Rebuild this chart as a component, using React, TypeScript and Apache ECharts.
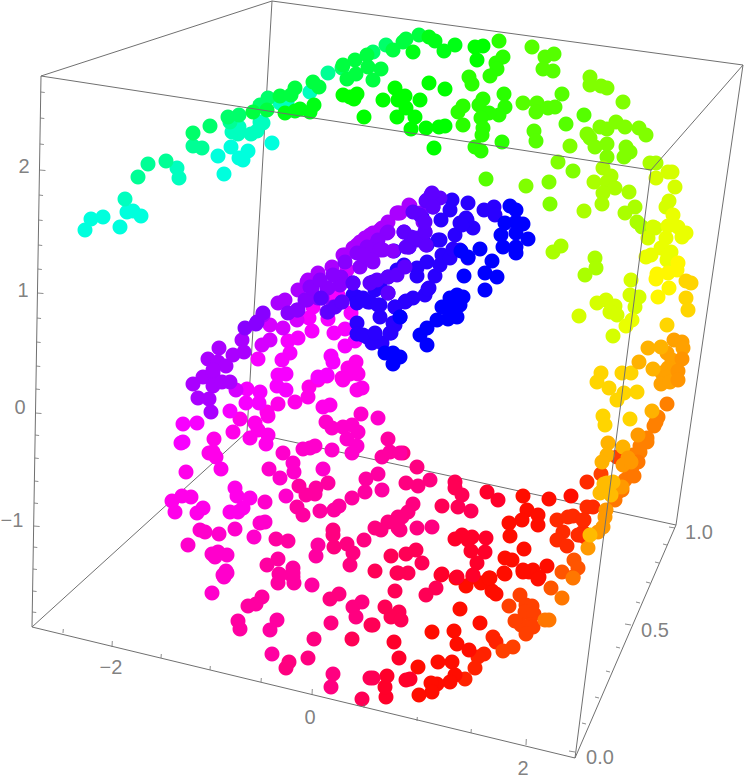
import React, { useEffect, useRef } from "react";
import * as echarts from "echarts";

// Projected positions of the points (x, y on the page plane), grouped by hue band
const hue172 = [[85,230],[91,219],[103,217],[120,227],[127,212],[133,211],[141,216],[224,174],[272,143],[243,160],[239,158],[248,151],[218,156],[231,147]];
const hue165 = [[125,199],[179,178],[177,168],[251,134],[257,131],[263,123],[260,122],[280,103],[287,102],[238,134],[232,132],[239,127],[310,92]];
const hue155 = [[138,177],[148,164],[166,161],[193,146],[202,148],[230,122],[328,73]];
const hue145 = [[193,133],[210,126],[228,117],[239,115],[342,68],[260,105],[268,98],[373,52],[386,45]];
const hue135 = [[253,112],[267,110],[280,96],[291,95],[295,88],[313,82],[319,87],[343,65],[355,60],[347,79],[356,74],[367,55],[368,67],[381,69],[393,50],[403,42],[406,39],[419,35],[373,80]];
const hue125 = [[285,113],[295,111],[300,109],[310,112],[314,105],[413,52],[429,37],[435,41],[444,51],[455,45]];
const hue120 = [[343,95],[350,97],[357,94],[354,99],[364,117],[383,100],[395,88],[405,96],[398,100],[406,108],[397,117],[415,117],[420,100],[429,83],[445,89],[411,129],[426,128],[439,127],[445,126],[434,148],[475,47],[483,46],[477,60]];
const hue110 = [[499,41],[503,57],[496,63],[497,69],[490,76],[469,77],[472,84],[463,125],[458,112],[463,106],[483,99],[479,105],[504,94],[505,107],[499,115],[489,113],[481,118],[483,128],[482,135],[475,147],[481,151],[502,142]];
const hue100 = [[532,47],[545,57],[554,54],[543,69],[553,71],[523,103],[537,103],[536,112],[548,108],[555,107],[562,94],[534,131],[536,141],[566,124],[584,115],[486,179]];
const hue90 = [[590,77],[590,85],[601,86],[607,88],[623,102],[587,134],[590,138],[595,147],[600,127],[607,129],[616,122],[625,127],[639,128],[646,135],[607,144],[607,157],[626,147],[630,152],[624,157],[570,146],[558,162],[573,171],[526,186],[549,182],[550,204]];
const hue80 = [[603,168],[611,176],[594,182],[607,182],[615,188],[603,193],[629,192],[602,204],[584,211],[625,213],[635,207],[650,163],[656,163],[553,252],[561,246],[595,258],[596,268],[585,275],[637,222],[642,227]];
const hue70 = [[656,178],[668,172],[672,172],[675,187],[669,201],[666,207],[655,228],[648,238],[653,227],[597,303],[606,300],[579,316],[631,280],[615,306],[610,312],[617,315],[613,336],[630,295],[639,297],[635,307]];
const hue65 = [[673,215],[668,226],[678,227],[666,238],[661,248],[671,252],[651,255],[646,257],[668,255],[667,260],[686,233],[682,237],[632,320],[626,326]];
const hue58 = [[678,263],[677,270],[668,273],[657,274],[656,279],[669,288],[658,297]];
const hue50 = [[686,281],[691,283],[686,298],[688,310],[667,325],[601,373],[597,382],[609,388],[622,373],[631,373],[624,393],[637,392],[617,400],[603,416],[605,425],[630,419]];
const hue42 = [[648,348],[661,347],[639,362],[653,369],[608,443],[623,447],[607,455],[602,462],[652,411]];
const hue38 = [[674,340],[682,342],[683,348],[667,353],[672,360],[668,368],[662,373],[667,377],[661,384],[670,382]];
const hue35 = [[682,359],[678,371],[678,380]];
const hue30 = [[667,404],[658,417],[656,422],[654,426],[647,438],[647,442],[640,452],[633,455],[640,446]];
const hue15 = [[601,474],[617,457],[520,595],[526,605],[532,606],[525,612],[534,614],[521,625],[530,625],[533,627],[526,634],[515,621],[509,606],[513,647],[503,651]];
const hue10 = [[587,482],[584,520],[563,532],[557,540],[567,546],[583,532],[578,535],[557,520],[568,517],[573,516],[593,507],[587,507],[583,520],[580,535],[585,537]];
const hue20 = [[574,560],[578,568],[573,577],[562,572],[551,588]];
const hue28 = [[545,620],[549,620],[562,598],[573,578]];
const hue8 = [[493,637],[496,642],[484,654],[478,657],[475,668],[465,679]];
const hue3 = [[549,499],[571,496],[523,496],[527,510],[538,515],[522,520],[538,525],[509,523],[510,536],[524,549],[505,558],[512,560],[504,573],[523,570],[533,570],[547,566],[539,577],[529,572],[523,572],[538,579],[505,574],[492,591],[496,594],[490,578],[481,583],[473,577],[466,586],[456,578],[460,609],[480,623],[454,631],[457,644],[469,650],[452,662],[438,662],[455,675],[450,682],[437,684],[431,683],[432,692],[419,695],[418,667],[432,632],[489,578]];
const hue350 = [[487,492],[498,500],[486,538],[472,537],[468,540],[471,551],[485,552],[462,535],[455,539],[477,563],[473,575],[457,577],[442,574],[410,679],[406,680],[386,697],[385,687],[387,676],[399,658],[394,642],[441,575]];
const hue340 = [[455,482],[455,488],[462,495],[458,507],[471,511],[442,506],[416,550],[406,554],[422,563],[408,573],[398,573],[436,588],[426,595],[395,591],[385,607],[399,612],[391,617],[401,620],[373,625],[362,699],[370,678],[373,678],[352,639],[371,625],[397,573],[375,571],[391,556]];
const hue330 = [[403,453],[417,467],[406,483],[418,486],[430,480],[413,504],[408,512],[402,517],[417,528],[432,527],[400,530],[398,528],[398,517],[388,522],[381,530],[375,528],[364,540],[347,544],[353,553],[350,565],[334,547],[333,535],[333,530],[353,607],[362,602],[356,617],[331,623],[330,599],[339,594],[333,674],[331,687],[308,658],[314,639],[289,662],[286,668]];
const hue322 = [[388,439],[382,457],[390,452],[400,453],[378,474],[366,479],[365,492],[382,490],[352,498],[339,506],[334,510],[320,511],[328,483],[316,488],[315,494],[306,495],[299,486],[303,515],[297,507],[318,545],[316,556],[293,568],[279,574],[293,577],[278,559],[267,565],[312,585],[294,583],[278,583],[280,575],[293,573],[276,539],[288,541],[272,654],[277,620],[270,630],[262,597],[256,604],[248,606],[238,621],[240,629]];
const hue312 = [[378,418],[361,414],[358,432],[347,439],[357,446],[352,453],[343,427],[352,425],[332,428],[326,422],[332,450],[315,446],[310,448],[303,449],[323,469],[294,472],[293,463],[286,496],[280,478],[269,469],[283,453],[254,537],[260,523],[265,522],[265,502],[235,529],[219,534],[226,571],[223,575],[224,577],[227,573],[212,593],[227,555],[212,554],[218,552],[215,557],[200,530],[205,532],[188,545]];
const hue305 = [[357,390],[362,388],[350,374],[358,374],[343,380],[323,407],[330,405],[308,397],[309,387],[318,380],[327,376],[342,378],[295,402],[278,404],[267,412],[268,416],[240,419],[233,432],[250,438],[266,444],[268,435],[258,430],[255,423],[243,508],[238,512],[230,512],[250,498],[237,496],[235,488],[203,508],[197,513],[175,512],[172,501],[182,496],[191,497],[186,472],[221,469],[216,457],[213,452],[209,453],[214,439],[356,362],[357,373],[348,368]];
const hue298 = [[286,390],[277,386],[278,375],[286,374],[259,403],[260,392],[246,403],[230,411],[247,389],[183,442],[181,443],[183,424],[197,423],[258,359],[282,360],[290,353],[288,341],[298,338],[312,331],[309,318],[313,307],[333,297],[338,295],[328,319],[334,333],[345,329],[351,313],[345,346],[355,341],[331,356],[333,362],[318,377],[327,375]];
const hue290 = [[236,390],[262,345],[270,340],[270,325],[283,328],[297,320],[347,270]];
const hue280 = [[193,384],[203,377],[213,373],[213,386],[222,382],[230,382],[198,398],[209,399],[211,412],[242,340],[233,355],[244,352],[219,348],[208,359],[218,362],[226,366],[213,370],[278,303],[285,300],[298,290],[307,282],[318,273],[332,267],[343,255],[353,248],[360,242],[370,235],[380,230],[388,222],[397,213],[410,206],[400,213],[409,205],[398,213],[382,228],[373,233],[365,238],[357,245],[345,255],[308,280],[283,302],[263,315]];
const hue272 = [[245,328],[257,322],[263,313],[256,324],[288,313],[298,310],[305,300],[310,287],[327,288],[341,277],[340,285],[345,262],[360,267],[367,257],[373,262],[377,243],[387,233],[383,250],[393,251],[420,213],[423,222],[404,232],[378,250],[388,232],[378,240],[367,247],[357,253],[380,250],[372,260],[333,275],[328,288],[318,298],[307,300],[312,288],[297,310],[320,280],[363,255],[342,302],[333,307],[327,312],[322,298]];
const hue262 = [[321,298],[328,312],[335,307],[342,302],[353,283],[370,283],[377,280],[388,277],[397,275],[388,293],[405,267],[409,247],[411,237],[406,247],[418,240],[425,232],[426,245],[431,195],[426,201],[440,198],[433,207],[404,232],[415,238],[425,232],[420,215],[413,212],[425,222],[427,200],[432,193],[433,207]];
const hue250 = [[357,297],[370,302],[380,305],[395,307],[380,317],[357,323],[357,334],[367,337],[375,335],[372,343],[382,343],[391,333],[393,323],[417,268],[417,276],[427,262],[435,276],[440,265],[442,255],[450,258],[453,249],[460,250],[468,258],[440,240],[455,235],[450,210],[452,200],[441,220],[422,217],[460,223],[466,218],[473,228],[468,203],[484,210],[494,207],[495,215],[467,220],[462,225],[413,298],[425,295],[429,288],[406,301],[353,283],[373,282],[380,287],[388,293],[353,295],[357,303],[368,302],[378,305],[363,298],[375,290],[388,277],[397,270],[404,265],[438,240],[427,245],[409,247],[394,251],[428,289],[405,302],[395,307],[400,317],[395,325],[390,333],[363,335],[375,333]];
const hue240 = [[510,206],[516,210],[516,222],[523,224],[505,223],[501,235],[516,233],[528,239],[503,247],[516,247],[516,253],[461,251],[468,257],[480,249],[492,261],[485,273],[497,277],[464,276],[485,290],[463,297],[457,295],[450,298],[460,305],[442,307],[452,310],[457,317],[448,319],[437,320],[427,328],[420,335],[427,345],[385,353],[393,353],[393,364],[400,317],[400,357]];
const bandOrange28 = [[632,467],[630,473],[625,480],[622,490],[615,500],[618,492],[638,462],[634,476]];
const frontOrange36 = [[638,435],[628,458],[623,465],[631,462],[606,510],[605,517],[603,527],[598,532],[588,548],[618,487],[622,487]];
const frontGold44 = [[590,535],[603,490],[607,483],[613,482],[600,493],[608,490],[611,495],[604,484]];

const bands: [number, number[][]][] = [
  [8, hue8],[3, hue3],[350, hue350],[340, hue340],[330, hue330],[322, hue322],[312, hue312],[305, hue305],[298, hue298],[290, hue290],[280, hue280],[250, hue250],[272, hue272],[262, hue262],[240, hue240],
  [172, hue172],[165, hue165],[155, hue155],[145, hue145],[135, hue135],[125, hue125],[120, hue120],[110, hue110],[100, hue100],[90, hue90],[80, hue80],[70, hue70],[65, hue65],[58, hue58],[50, hue50],
  [10, hue10],[15, hue15],[20, hue20],[28, hue28],[30, hue30],[38, hue38],[35, hue35],[42, hue42],[28, bandOrange28],[36, frontOrange36],[44, frontGold44],
];

// Box frame of the 3D plot, as projected
const backEdges = [[[272,1],[247,432]],[[247,432],[32,627]],[[247,432],[676,525]],[[41,76],[272,1]],[[272,1],[743,65]]];
const frontEdges = [[[41,76],[651,170]],[[651,170],[743,65]],[[41,76],[32,627]],[[651,170],[575,758]],[[743,65],[676,525]],[[32,627],[575,758]],[[575,758],[676,525]]];

// Ticks as projected
const leftTickY = [92,118,144,170,195,220,245,269,293,318,342,366,389,413,435,458,481,503,526,547,569,591,612];
const leftMajorY = [170,293,413,526];
const bottomTicks = [[63,633],[112,647],[161,658],[210,670],[261,682],[312,695],[364,708],[417,721],[471,733],[526,745]];
const bottomMajorX = [112,312,526];
const rightTicks = [[575,752],[586,724],[599,698],[610,672],[620,648],[631,625],[640,603],[650,583],[659,563],[667,545],[675,528]];
const rightMajorY = [752,625,528];

const tickLabels = [
  { name: "2", value: [24,166] },{ name: "1", value: [23,290] },{ name: "0", value: [20,407] },{ name: "−1", value: [12,520] },
  { name: "−2", value: [111,667] },{ name: "0", value: [310,717] },{ name: "2", value: [523,768] },
  { name: "0.0", value: [600,757] },{ name: "0.5", value: [655,630] },{ name: "1.0", value: [699,532] },
];

const AXIS = "#707070";
const TEXT = "#5f5f5f";

function segs(list: number[][][]) {
  const out: (number[] | string)[] = [];
  list.forEach((s, i) => { if (i) out.push("-"); out.push(s[0], s[1]); });
  return out;
}

function edgeSeries(list: number[][][], z: number, width: number) {
  return {
    type: "line", z, silent: true, symbol: "none", connectNulls: false,
    lineStyle: { color: AXIS, width }, data: segs(list).map((p) => (p === "-" ? [NaN, NaN] : p)),
  };
}

export default function App() {
  const ref = useRef<HTMLDivElement>(null);
  useEffect(() => {
    if (!ref.current) return;
    const chart = echarts.init(ref.current, undefined, { renderer: "svg" });
    const leftX = (y: number) => 41 - ((y - 76) * 9) / 551;
    const ticks: number[][][] = [
      ...leftTickY.map((y) => [[leftX(y), y], [leftX(y) + (leftMajorY.includes(y) ? 6 : 4), y + 0.5]]),
      ...bottomTicks.map(([x, y]) => [[x, y], [x + 0.3, y - (bottomMajorX.includes(x) ? 6 : 4)]]),
      ...rightTicks.map(([x, y]) => [[x, y], [x - (rightMajorY.includes(y) ? 6 : 4), y - 1]]),
    ];
    chart.setOption({
      animation: false,
      backgroundColor: "#ffffff",
      grid: { left: 0, right: 0, top: 0, bottom: 0 },
      xAxis: { type: "value", min: 0, max: 746, show: false },
      yAxis: { type: "value", min: 0, max: 784, inverse: true, show: false },
      series: [
        edgeSeries(backEdges, 1, 1),
        ...bands.map(([h, pts]) => ({
          type: "scatter", z: 2, silent: true, symbol: "circle", symbolSize: 15,
          itemStyle: { color: `hsl(${h},100%,50%)`, opacity: 1 },
          data: pts,
        })),
        edgeSeries(frontEdges, 3, 1),
        edgeSeries(ticks, 3, 0.8),
        {
          type: "scatter", z: 4, silent: true, symbolSize: 0,
          label: {
            show: true, position: "inside", color: TEXT, fontSize: 20,
            fontFamily: "Liberation Sans", formatter: (p: any) => p.name,
          },
          data: tickLabels,
        },
      ],
    });
    return () => chart.dispose();
  }, []);
  return <div ref={ref} style={{ position: "absolute", left: 0, top: 0, width: 746, height: 784 }} />;
}
